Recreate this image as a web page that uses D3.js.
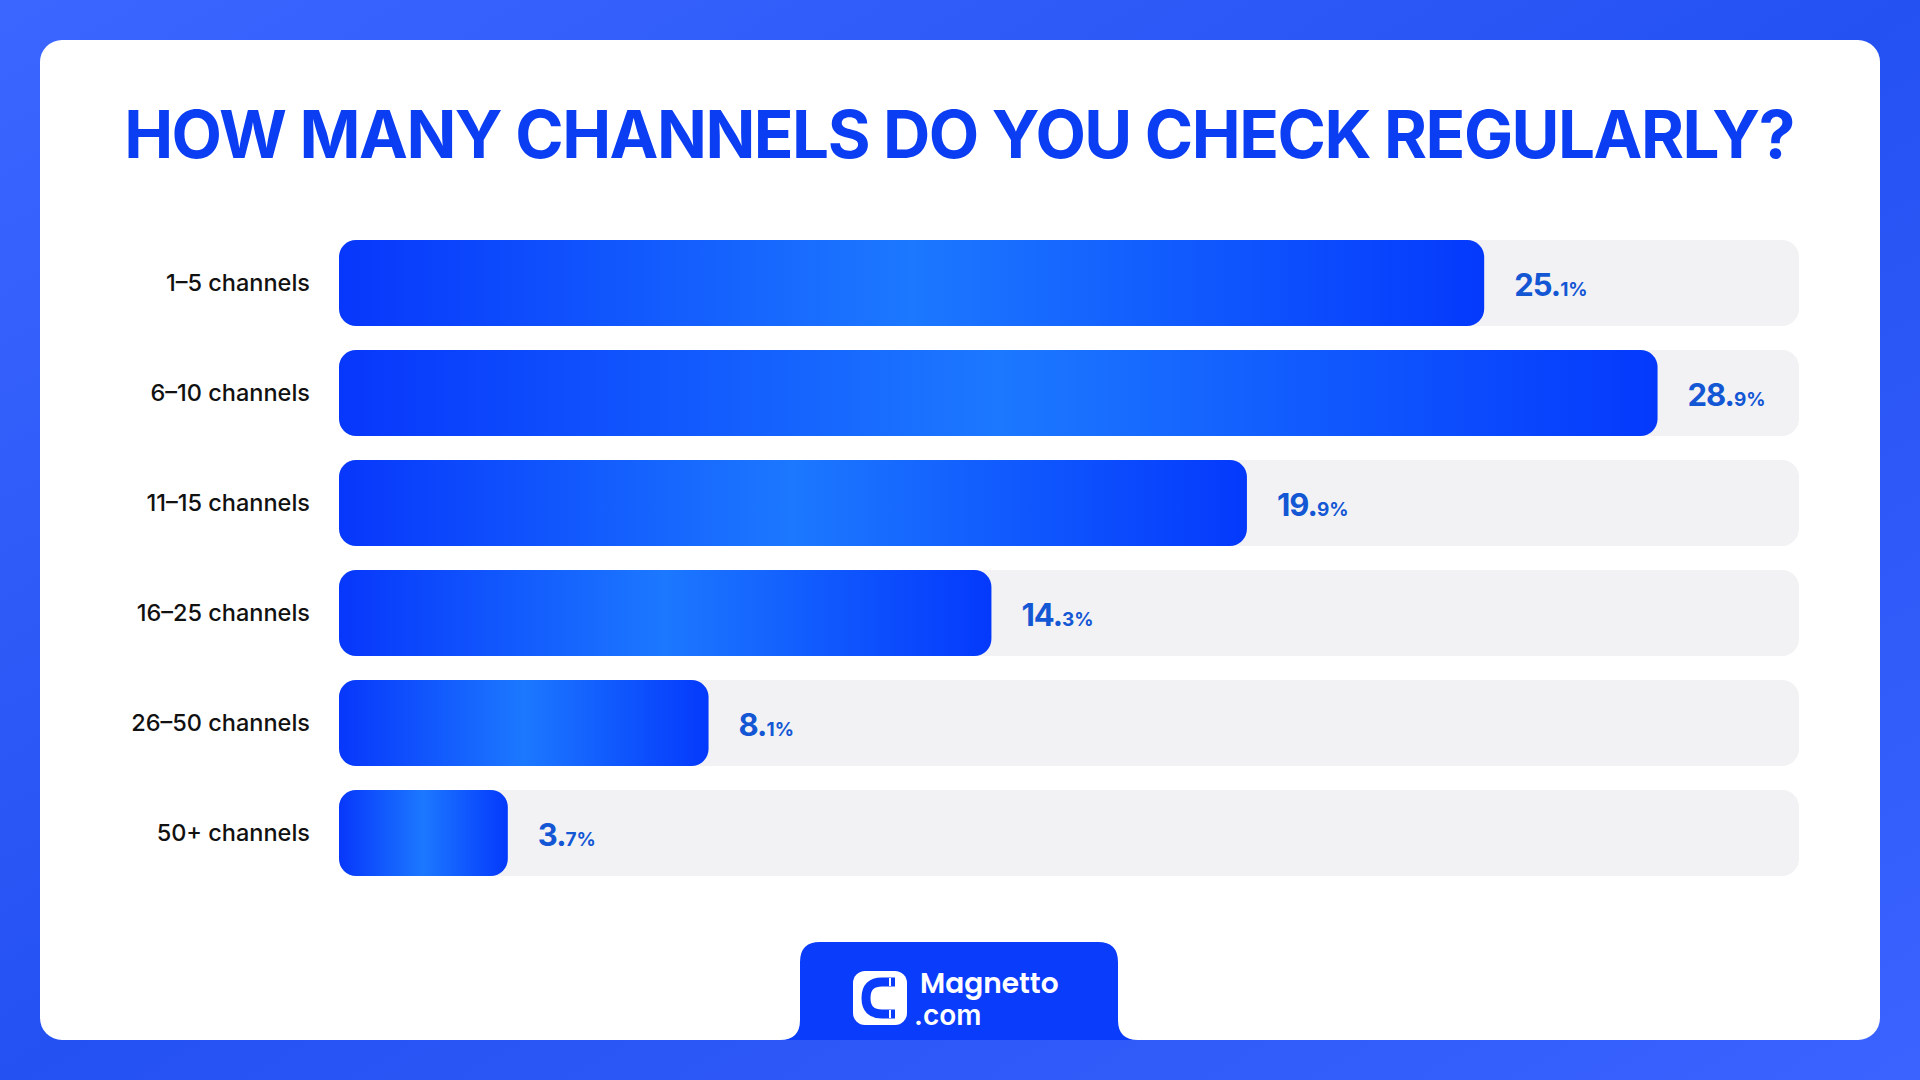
<!DOCTYPE html>
<html><head><meta charset="utf-8">
<script src="https://cdn.jsdelivr.net/npm/d3@7"></script>
<style>body{margin:0;background:#2b55f5;overflow:hidden}</style>
</head><body>
<svg id="chart" width="1920" height="1080"></svg>
<script>
const categories = ["1–5 channels","6–10 channels","11–15 channels","16–25 channels","26–50 channels","50+ channels"];
const values = [25.1, 28.9, 19.9, 14.3, 8.1, 3.7];

const svg = d3.select("#chart");
const defs = svg.append("defs");
const bg = defs.append("linearGradient").attr("id","bg").attr("x1",0).attr("y1",0).attr("x2",1).attr("y2",1);
bg.append("stop").attr("offset","0%").attr("stop-color","#3b66ff");
bg.append("stop").attr("offset","50%").attr("stop-color","#2451f2");
bg.append("stop").attr("offset","100%").attr("stop-color","#3a63ff");
const bar = defs.append("linearGradient").attr("id","bar").attr("x1",0).attr("y1",0).attr("x2",1).attr("y2",0);
bar.append("stop").attr("offset","0%").attr("stop-color","#0737fb");
bar.append("stop").attr("offset","50%").attr("stop-color","#1c78ff");
bar.append("stop").attr("offset","100%").attr("stop-color","#0439fc");

svg.append("rect").attr("width",1920).attr("height",1080).attr("fill","url(#bg)");
svg.append("rect").attr("x",40).attr("y",40).attr("width",1840).attr("height",1000).attr("rx",22).attr("fill","#fff");

svg.append("text").attr("x",959).attr("y",158).attr("text-anchor","middle")
  .attr("font-family","Inter, 'Noto Sans', sans-serif").attr("font-weight",700).attr("font-size",65.5)
  .attr("fill","#0b3df2").attr("letter-spacing","-1.5").text("HOW MANY CHANNELS DO YOU CHECK REGULARLY?");

const x = d3.scaleLinear().domain([0,32]).range([339,1799]);
const y = d3.scaleBand().domain(categories).range([240,876]).paddingInner(24/110).paddingOuter(0);
const h = y.bandwidth();

const rows = svg.append("g").selectAll("g").data(categories).join("g")
  .attr("transform", d => `translate(0,${y(d)})`);
rows.append("rect").attr("x",x(0)).attr("width",x(32)-x(0)).attr("height",h).attr("rx",17).attr("fill","#f2f2f4");
rows.append("rect").attr("x",x(0)).attr("width",(d,i)=>x(values[i])-x(0)).attr("height",h).attr("rx",17).attr("fill","url(#bar)");
rows.append("text").attr("x",310).attr("y",h/2).attr("dy","0.35em").attr("text-anchor","end")
  .attr("font-family","Inter, sans-serif").attr("font-weight",500).attr("font-size",23.5).attr("fill","#111")
  .text(d=>d);
const vt = rows.append("text").attr("x",(d,i)=>x(values[i])+30).attr("y",h/2 + 13)
  .attr("font-family","Inter, sans-serif").attr("font-weight",700).attr("fill","#1457d4");
vt.append("tspan").attr("font-size",31).attr("letter-spacing","-1").text((d,i)=>String(values[i]).split(".")[0]+".");
vt.append("tspan").attr("font-size",19).text((d,i)=>String(values[i]).split(".")[1]+"%");

// logo tab
const tab = svg.append("g");
tab.append("path").attr("fill","#0a3cfb")
  .attr("d","M780,1040 Q800,1040 800,1020 L800,962 Q800,942 820,942 L1098,942 Q1118,942 1118,962 L1118,1020 Q1118,1040 1138,1040 Z");
tab.append("rect").attr("x",853).attr("y",971).attr("width",54).attr("height",54).attr("rx",12).attr("fill","#fff");
tab.append("path").attr("fill","none").attr("stroke","#0a3cfb").attr("stroke-width",9)
  .attr("d","M895,982 L882,982 Q866,982 866,998 Q866,1014 882,1014 L895,1014");
tab.append("path").attr("stroke","#fff").attr("stroke-width",2).attr("d","M890,978 L890,986 M890,1010 L890,1018");
tab.append("text").attr("x",920).attr("y",993).attr("font-family","Poppins, Inter, sans-serif").attr("font-weight",600)
  .attr("font-size",28).attr("fill","#fff").text("Magnetto");
tab.append("text").attr("x",914).attr("y",1025).attr("font-family","Inter, sans-serif").attr("font-weight",600)
  .attr("font-size",28).attr("fill","#fff").text(".com");
</script>
</body></html>
